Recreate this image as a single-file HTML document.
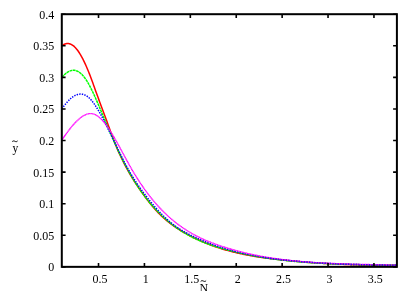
<!DOCTYPE html>
<html><head><meta charset="utf-8"><title>plot</title>
<style>
html,body{margin:0;padding:0;background:#fff;}
body{width:415px;height:291px;overflow:hidden;}
svg{display:block;will-change:transform;}
text{font-family:"Liberation Serif",serif;font-size:12px;fill:#000;}
</style></head><body>
<svg width="415" height="291" viewBox="0 0 415 291">
<rect width="415" height="291" fill="#fff"/>
<g fill="none" stroke-linejoin="round" stroke-linecap="butt" stroke-width="1.5">
<path d="M61.80,45.89 L62.64,45.26 L63.48,44.72 L64.32,44.28 L65.16,43.94 L66.00,43.70 L66.84,43.56 L67.68,43.52 L68.52,43.57 L69.36,43.72 L70.20,43.97 L71.04,44.32 L71.88,44.76 L72.72,45.30 L73.56,45.93 L74.40,46.66 L75.24,47.49 L76.08,48.42 L76.92,49.43 L77.76,50.54 L78.60,51.74 L79.44,53.02 L80.28,54.38 L81.12,55.82 L81.96,57.35 L82.80,58.94 L83.64,60.61 L84.48,62.35 L85.32,64.15 L86.16,66.02 L87.00,67.95 L87.84,69.95 L88.68,72.00 L89.52,74.11 L90.35,76.28 L91.19,78.51 L92.03,80.79 L92.87,83.10 L93.71,85.45 L94.55,87.80 L95.39,90.15 L96.23,92.48 L97.07,94.79 L97.91,97.08 L98.75,99.37 L99.59,101.65 L100.43,103.91 L101.27,106.18 L102.11,108.44 L102.95,110.71 L103.79,112.97 L104.63,115.24 L105.47,117.51 L106.31,119.80 L107.15,122.09 L107.99,124.40 L108.83,126.72 L109.67,129.06 L110.51,131.39 L111.35,133.71 L112.19,136.00 L113.03,138.25 L113.87,140.46 L114.71,142.60 L115.55,144.70 L116.39,146.74 L117.23,148.74 L118.07,150.68 L118.91,152.59 L119.75,154.44 L120.59,156.26 L121.43,158.04 L122.27,159.78 L123.11,161.48 L123.95,163.14 L124.79,164.77 L125.63,166.37 L126.47,167.93 L127.31,169.46 L128.15,170.97 L128.99,172.44 L129.83,173.89 L130.67,175.31 L131.51,176.71 L132.35,178.08 L133.19,179.43 L134.03,180.76 L134.87,182.08 L135.71,183.37 L136.55,184.65 L137.39,185.91 L138.23,187.16 L139.07,188.40 L139.91,189.63 L140.75,190.84 L141.59,192.04 L142.43,193.22 L143.27,194.40 L144.11,195.56 L144.95,196.70 L145.78,197.83 L146.62,198.95 L147.46,200.05 L148.30,201.13 L149.14,202.21 L149.98,203.26 L150.82,204.30 L151.66,205.32 L152.50,206.32 L153.34,207.31 L154.18,208.28 L155.02,209.23 L155.86,210.17 L156.70,211.08 L157.54,211.98 L158.38,212.86 L159.22,213.72 L160.06,214.56 L160.90,215.38 L161.74,216.19 L162.58,216.97 L163.42,217.74 L164.26,218.50 L165.10,219.24 L165.94,219.96 L166.78,220.67 L167.62,221.36 L168.46,222.04 L169.30,222.70 L170.14,223.35 L170.98,223.99 L171.82,224.61 L172.66,225.23 L173.50,225.83 L174.34,226.41 L175.18,226.99 L176.02,227.56 L176.86,228.12 L177.70,228.66 L178.54,229.20 L179.38,229.73 L180.22,230.25 L181.06,230.76 L181.90,231.26 L182.74,231.76 L183.58,232.24 L184.42,232.73 L185.26,233.20 L186.10,233.67 L186.94,234.14 L187.78,234.60 L188.62,235.05 L189.46,235.49 L190.30,235.94 L191.14,236.37 L191.98,236.80 L192.82,237.23 L193.66,237.64 L194.50,238.06 L195.34,238.47 L196.18,238.87 L197.02,239.27 L197.86,239.66 L198.70,240.04 L199.54,240.43 L200.38,240.80 L201.22,241.17 L202.05,241.54 L202.89,241.90 L203.73,242.26 L204.57,242.61 L205.41,242.96 L206.25,243.30 L207.09,243.63 L207.93,243.97 L208.77,244.29 L209.61,244.62 L210.45,244.93 L211.29,245.25 L212.13,245.56 L212.97,245.86 L213.81,246.16 L214.65,246.46 L215.49,246.75 L216.33,247.04 L217.17,247.32 L218.01,247.60 L218.85,247.87 L219.69,248.14 L220.53,248.41 L221.37,248.67 L222.21,248.93 L223.05,249.19 L223.89,249.44 L224.73,249.68 L225.57,249.93 L226.41,250.17 L227.25,250.40 L228.09,250.63 L228.93,250.86 L229.77,251.09 L230.61,251.31 L231.45,251.53 L232.29,251.74 L233.13,251.95 L233.97,252.16 L234.81,252.36 L235.65,252.56 L236.49,252.76 L237.33,252.96 L238.17,253.15 L239.01,253.34 L239.85,253.52 L240.69,253.70 L241.53,253.88 L242.37,254.06 L243.21,254.23 L244.05,254.40 L244.89,254.57 L245.73,254.74 L246.57,254.90 L247.41,255.06 L248.25,255.22 L249.09,255.37 L249.93,255.53 L250.77,255.68 L251.61,255.82 L252.45,255.97 L253.29,256.11 L254.13,256.25 L254.97,256.39 L255.81,256.53 L256.65,256.66 L257.48,256.79 L258.32,256.92 L259.16,257.05 L260.00,257.18 L260.84,257.30 L261.68,257.42 L262.52,257.54 L263.36,257.66 L264.20,257.78 L265.04,257.89 L265.88,258.01 L266.72,258.12 L267.56,258.23 L268.40,258.34 L269.24,258.45 L270.08,258.55 L270.92,258.66 L271.76,258.76 L272.60,258.86 L273.44,258.96 L274.28,259.06 L275.12,259.16 L275.96,259.26 L276.80,259.36 L277.64,259.45 L278.48,259.55 L279.32,259.64 L280.16,259.73 L281.00,259.82 L281.84,259.91 L282.68,260.00 L283.52,260.09 L284.36,260.18 L285.20,260.27 L286.04,260.36 L286.88,260.44 L287.72,260.53 L288.56,260.61 L289.40,260.69 L290.24,260.77 L291.08,260.86 L291.92,260.94 L292.76,261.02 L293.60,261.10 L294.44,261.17 L295.28,261.25 L296.12,261.33 L296.96,261.40 L297.80,261.48 L298.64,261.55 L299.48,261.62 L300.32,261.70 L301.16,261.77 L302.00,261.84 L302.84,261.91 L303.68,261.98 L304.52,262.05 L305.36,262.11 L306.20,262.18 L307.04,262.25 L307.88,262.31 L308.72,262.38 L309.56,262.44 L310.40,262.50 L311.24,262.56 L312.08,262.63 L312.92,262.69 L313.75,262.75 L314.59,262.80 L315.43,262.86 L316.27,262.92 L317.11,262.98 L317.95,263.03 L318.79,263.09 L319.63,263.14 L320.47,263.19 L321.31,263.25 L322.15,263.30 L322.99,263.35 L323.83,263.40 L324.67,263.45 L325.51,263.50 L326.35,263.55 L327.19,263.60 L328.03,263.64 L328.87,263.69 L329.71,263.73 L330.55,263.78 L331.39,263.82 L332.23,263.87 L333.07,263.91 L333.91,263.95 L334.75,263.99 L335.59,264.03 L336.43,264.07 L337.27,264.11 L338.11,264.15 L338.95,264.19 L339.79,264.22 L340.63,264.26 L341.47,264.30 L342.31,264.33 L343.15,264.36 L343.99,264.40 L344.83,264.43 L345.67,264.46 L346.51,264.49 L347.35,264.53 L348.19,264.56 L349.03,264.58 L349.87,264.61 L350.71,264.64 L351.55,264.67 L352.39,264.70 L353.23,264.72 L354.07,264.75 L354.91,264.77 L355.75,264.80 L356.59,264.82 L357.43,264.84 L358.27,264.87 L359.11,264.89 L359.95,264.91 L360.79,264.93 L361.63,264.95 L362.47,264.97 L363.31,264.99 L364.15,265.00 L364.99,265.02 L365.83,265.04 L366.67,265.05 L367.51,265.07 L368.35,265.08 L369.18,265.10 L370.02,265.11 L370.86,265.12 L371.70,265.14 L372.54,265.15 L373.38,265.16 L374.22,265.17 L375.06,265.18 L375.90,265.19 L376.74,265.20 L377.58,265.21 L378.42,265.21 L379.26,265.22 L380.10,265.23 L380.94,265.23 L381.78,265.24 L382.62,265.24 L383.46,265.25 L384.30,265.25 L385.14,265.26 L385.98,265.26 L386.82,265.26 L387.66,265.26 L388.50,265.26 L389.34,265.26 L390.18,265.26 L391.02,265.26 L391.86,265.26 L392.70,265.26 L393.54,265.26 L394.38,265.25 L395.22,265.25 L396.06,265.25 L396.90,265.24" stroke="#ff0000"/>
<path d="M61.80,77.32 L62.64,76.41 L63.48,75.56 L64.32,74.76 L65.16,74.02 L66.00,73.34 L66.84,72.72 L67.68,72.16 L68.52,71.67 L69.36,71.25 L70.20,70.90 L71.04,70.62 L71.88,70.42 L72.72,70.30 L73.56,70.26 L74.40,70.30 L75.24,70.43 L76.08,70.65 L76.92,70.94 L77.76,71.33 L78.60,71.80 L79.44,72.35 L80.28,72.99 L81.12,73.72 L81.96,74.53 L82.80,75.42 L83.64,76.40 L84.48,77.46 L85.32,78.61 L86.16,79.84 L87.00,81.15 L87.84,82.54 L88.68,84.00 L89.52,85.54 L90.35,87.14 L91.19,88.79 L92.03,90.50 L92.87,92.26 L93.71,94.07 L94.55,95.92 L95.39,97.80 L96.23,99.71 L97.07,101.65 L97.91,103.60 L98.75,105.58 L99.59,107.57 L100.43,109.57 L101.27,111.58 L102.11,113.59 L102.95,115.61 L103.79,117.62 L104.63,119.63 L105.47,121.63 L106.31,123.62 L107.15,125.61 L107.99,127.58 L108.83,129.55 L109.67,131.51 L110.51,133.46 L111.35,135.39 L112.19,137.31 L113.03,139.22 L113.87,141.12 L114.71,143.00 L115.55,144.86 L116.39,146.71 L117.23,148.54 L118.07,150.35 L118.91,152.15 L119.75,153.92 L120.59,155.67 L121.43,157.41 L122.27,159.12 L123.11,160.81 L123.95,162.47 L124.79,164.11 L125.63,165.73 L126.47,167.32 L127.31,168.88 L128.15,170.43 L128.99,171.94 L129.83,173.44 L130.67,174.91 L131.51,176.36 L132.35,177.78 L133.19,179.19 L134.03,180.57 L134.87,181.93 L135.71,183.26 L136.55,184.58 L137.39,185.87 L138.23,187.15 L139.07,188.40 L139.91,189.63 L140.75,190.85 L141.59,192.04 L142.43,193.21 L143.27,194.37 L144.11,195.51 L144.95,196.63 L145.78,197.73 L146.62,198.81 L147.46,199.87 L148.30,200.92 L149.14,201.95 L149.98,202.96 L150.82,203.96 L151.66,204.94 L152.50,205.91 L153.34,206.86 L154.18,207.79 L155.02,208.71 L155.86,209.61 L156.70,210.50 L157.54,211.38 L158.38,212.24 L159.22,213.09 L160.06,213.93 L160.90,214.75 L161.74,215.56 L162.58,216.35 L163.42,217.14 L164.26,217.91 L165.10,218.66 L165.94,219.41 L166.78,220.14 L167.62,220.86 L168.46,221.57 L169.30,222.27 L170.14,222.95 L170.98,223.63 L171.82,224.29 L172.66,224.94 L173.50,225.58 L174.34,226.21 L175.18,226.82 L176.02,227.43 L176.86,228.03 L177.70,228.61 L178.54,229.19 L179.38,229.75 L180.22,230.31 L181.06,230.86 L181.90,231.39 L182.74,231.92 L183.58,232.44 L184.42,232.94 L185.26,233.44 L186.10,233.93 L186.94,234.41 L187.78,234.88 L188.62,235.35 L189.46,235.80 L190.30,236.25 L191.14,236.69 L191.98,237.12 L192.82,237.54 L193.66,237.96 L194.50,238.36 L195.34,238.76 L196.18,239.16 L197.02,239.54 L197.86,239.92 L198.70,240.29 L199.54,240.66 L200.38,241.02 L201.22,241.37 L202.05,241.72 L202.89,242.06 L203.73,242.39 L204.57,242.72 L205.41,243.04 L206.25,243.36 L207.09,243.67 L207.93,243.98 L208.77,244.28 L209.61,244.58 L210.45,244.87 L211.29,245.15 L212.13,245.44 L212.97,245.72 L213.81,245.99 L214.65,246.26 L215.49,246.53 L216.33,246.79 L217.17,247.05 L218.01,247.30 L218.85,247.55 L219.69,247.80 L220.53,248.05 L221.37,248.29 L222.21,248.53 L223.05,248.77 L223.89,249.00 L224.73,249.23 L225.57,249.46 L226.41,249.69 L227.25,249.91 L228.09,250.14 L228.93,250.36 L229.77,250.58 L230.61,250.79 L231.45,251.00 L232.29,251.22 L233.13,251.42 L233.97,251.63 L234.81,251.83 L235.65,252.04 L236.49,252.24 L237.33,252.43 L238.17,252.63 L239.01,252.82 L239.85,253.01 L240.69,253.20 L241.53,253.39 L242.37,253.57 L243.21,253.75 L244.05,253.93 L244.89,254.11 L245.73,254.29 L246.57,254.46 L247.41,254.63 L248.25,254.80 L249.09,254.97 L249.93,255.14 L250.77,255.30 L251.61,255.46 L252.45,255.62 L253.29,255.78 L254.13,255.94 L254.97,256.09 L255.81,256.24 L256.65,256.39 L257.48,256.54 L258.32,256.69 L259.16,256.83 L260.00,256.97 L260.84,257.12 L261.68,257.25 L262.52,257.39 L263.36,257.53 L264.20,257.66 L265.04,257.79 L265.88,257.92 L266.72,258.05 L267.56,258.18 L268.40,258.30 L269.24,258.43 L270.08,258.55 L270.92,258.67 L271.76,258.78 L272.60,258.90 L273.44,259.02 L274.28,259.13 L275.12,259.24 L275.96,259.35 L276.80,259.46 L277.64,259.57 L278.48,259.67 L279.32,259.77 L280.16,259.88 L281.00,259.98 L281.84,260.08 L282.68,260.17 L283.52,260.27 L284.36,260.37 L285.20,260.46 L286.04,260.55 L286.88,260.64 L287.72,260.73 L288.56,260.82 L289.40,260.90 L290.24,260.99 L291.08,261.07 L291.92,261.16 L292.76,261.24 L293.60,261.32 L294.44,261.39 L295.28,261.47 L296.12,261.55 L296.96,261.62 L297.80,261.69 L298.64,261.77 L299.48,261.84 L300.32,261.91 L301.16,261.98 L302.00,262.04 L302.84,262.11 L303.68,262.17 L304.52,262.24 L305.36,262.30 L306.20,262.36 L307.04,262.42 L307.88,262.48 L308.72,262.54 L309.56,262.60 L310.40,262.65 L311.24,262.71 L312.08,262.76 L312.92,262.82 L313.75,262.87 L314.59,262.92 L315.43,262.97 L316.27,263.02 L317.11,263.07 L317.95,263.11 L318.79,263.16 L319.63,263.21 L320.47,263.25 L321.31,263.30 L322.15,263.34 L322.99,263.38 L323.83,263.42 L324.67,263.46 L325.51,263.50 L326.35,263.54 L327.19,263.58 L328.03,263.62 L328.87,263.65 L329.71,263.69 L330.55,263.73 L331.39,263.76 L332.23,263.79 L333.07,263.83 L333.91,263.86 L334.75,263.89 L335.59,263.92 L336.43,263.95 L337.27,263.98 L338.11,264.01 L338.95,264.04 L339.79,264.07 L340.63,264.10 L341.47,264.13 L342.31,264.15 L343.15,264.18 L343.99,264.20 L344.83,264.23 L345.67,264.25 L346.51,264.28 L347.35,264.30 L348.19,264.33 L349.03,264.35 L349.87,264.37 L350.71,264.39 L351.55,264.42 L352.39,264.44 L353.23,264.46 L354.07,264.48 L354.91,264.50 L355.75,264.52 L356.59,264.54 L357.43,264.56 L358.27,264.58 L359.11,264.60 L359.95,264.62 L360.79,264.64 L361.63,264.65 L362.47,264.67 L363.31,264.69 L364.15,264.71 L364.99,264.73 L365.83,264.74 L366.67,264.76 L367.51,264.78 L368.35,264.79 L369.18,264.81 L370.02,264.83 L370.86,264.85 L371.70,264.86 L372.54,264.88 L373.38,264.90 L374.22,264.91 L375.06,264.93 L375.90,264.95 L376.74,264.96 L377.58,264.98 L378.42,265.00 L379.26,265.01 L380.10,265.03 L380.94,265.05 L381.78,265.07 L382.62,265.08 L383.46,265.10 L384.30,265.12 L385.14,265.14 L385.98,265.15 L386.82,265.17 L387.66,265.19 L388.50,265.21 L389.34,265.23 L390.18,265.25 L391.02,265.27 L391.86,265.29 L392.70,265.31 L393.54,265.33 L394.38,265.35 L395.22,265.37 L396.06,265.39 L396.90,265.41" stroke="#00ff00" stroke-dasharray="2.8 0.55"/>
<path d="M61.80,108.90 L62.64,107.75 L63.48,106.62 L64.32,105.53 L65.16,104.47 L66.00,103.45 L66.84,102.47 L67.68,101.53 L68.52,100.64 L69.36,99.80 L70.20,99.00 L71.04,98.26 L71.88,97.57 L72.72,96.94 L73.56,96.36 L74.40,95.85 L75.24,95.40 L76.08,95.02 L76.92,94.69 L77.76,94.44 L78.60,94.25 L79.44,94.13 L80.28,94.08 L81.12,94.09 L81.96,94.18 L82.80,94.34 L83.64,94.57 L84.48,94.87 L85.32,95.25 L86.16,95.70 L87.00,96.23 L87.84,96.84 L88.68,97.52 L89.52,98.28 L90.35,99.12 L91.19,100.04 L92.03,101.04 L92.87,102.11 L93.71,103.24 L94.55,104.43 L95.39,105.66 L96.23,106.95 L97.07,108.26 L97.91,109.62 L98.75,111.02 L99.59,112.45 L100.43,113.93 L101.27,115.46 L102.11,117.03 L102.95,118.63 L103.79,120.27 L104.63,121.93 L105.47,123.61 L106.31,125.30 L107.15,126.99 L107.99,128.69 L108.83,130.38 L109.67,132.09 L110.51,133.79 L111.35,135.50 L112.19,137.22 L113.03,138.95 L113.87,140.69 L114.71,142.43 L115.55,144.18 L116.39,145.93 L117.23,147.68 L118.07,149.43 L118.91,151.17 L119.75,152.91 L120.59,154.63 L121.43,156.34 L122.27,158.04 L123.11,159.71 L123.95,161.37 L124.79,162.99 L125.63,164.60 L126.47,166.17 L127.31,167.71 L128.15,169.23 L128.99,170.71 L129.83,172.16 L130.67,173.59 L131.51,174.99 L132.35,176.36 L133.19,177.71 L134.03,179.04 L134.87,180.34 L135.71,181.62 L136.55,182.88 L137.39,184.13 L138.23,185.35 L139.07,186.55 L139.91,187.74 L140.75,188.91 L141.59,190.06 L142.43,191.21 L143.27,192.33 L144.11,193.45 L144.95,194.55 L145.78,195.65 L146.62,196.73 L147.46,197.81 L148.30,198.87 L149.14,199.93 L149.98,200.97 L150.82,202.00 L151.66,203.02 L152.50,204.03 L153.34,205.03 L154.18,206.02 L155.02,206.99 L155.86,207.95 L156.70,208.90 L157.54,209.83 L158.38,210.75 L159.22,211.66 L160.06,212.55 L160.90,213.43 L161.74,214.29 L162.58,215.13 L163.42,215.97 L164.26,216.78 L165.10,217.58 L165.94,218.37 L166.78,219.13 L167.62,219.88 L168.46,220.62 L169.30,221.33 L170.14,222.03 L170.98,222.71 L171.82,223.38 L172.66,224.03 L173.50,224.67 L174.34,225.30 L175.18,225.91 L176.02,226.50 L176.86,227.08 L177.70,227.65 L178.54,228.21 L179.38,228.76 L180.22,229.29 L181.06,229.81 L181.90,230.32 L182.74,230.82 L183.58,231.32 L184.42,231.80 L185.26,232.27 L186.10,232.73 L186.94,233.19 L187.78,233.64 L188.62,234.08 L189.46,234.51 L190.30,234.93 L191.14,235.35 L191.98,235.77 L192.82,236.17 L193.66,236.58 L194.50,236.97 L195.34,237.37 L196.18,237.75 L197.02,238.14 L197.86,238.52 L198.70,238.89 L199.54,239.27 L200.38,239.63 L201.22,240.00 L202.05,240.36 L202.89,240.71 L203.73,241.06 L204.57,241.41 L205.41,241.75 L206.25,242.09 L207.09,242.42 L207.93,242.75 L208.77,243.08 L209.61,243.40 L210.45,243.72 L211.29,244.04 L212.13,244.35 L212.97,244.66 L213.81,244.96 L214.65,245.26 L215.49,245.56 L216.33,245.85 L217.17,246.14 L218.01,246.42 L218.85,246.70 L219.69,246.98 L220.53,247.26 L221.37,247.53 L222.21,247.80 L223.05,248.06 L223.89,248.32 L224.73,248.58 L225.57,248.83 L226.41,249.08 L227.25,249.33 L228.09,249.58 L228.93,249.82 L229.77,250.06 L230.61,250.29 L231.45,250.52 L232.29,250.75 L233.13,250.98 L233.97,251.20 L234.81,251.42 L235.65,251.63 L236.49,251.85 L237.33,252.06 L238.17,252.26 L239.01,252.47 L239.85,252.67 L240.69,252.87 L241.53,253.07 L242.37,253.26 L243.21,253.45 L244.05,253.64 L244.89,253.82 L245.73,254.01 L246.57,254.19 L247.41,254.36 L248.25,254.54 L249.09,254.71 L249.93,254.88 L250.77,255.05 L251.61,255.21 L252.45,255.37 L253.29,255.53 L254.13,255.69 L254.97,255.85 L255.81,256.00 L256.65,256.15 L257.48,256.30 L258.32,256.45 L259.16,256.59 L260.00,256.73 L260.84,256.87 L261.68,257.01 L262.52,257.14 L263.36,257.28 L264.20,257.41 L265.04,257.54 L265.88,257.67 L266.72,257.79 L267.56,257.92 L268.40,258.04 L269.24,258.16 L270.08,258.28 L270.92,258.39 L271.76,258.51 L272.60,258.62 L273.44,258.73 L274.28,258.84 L275.12,258.95 L275.96,259.06 L276.80,259.16 L277.64,259.27 L278.48,259.37 L279.32,259.47 L280.16,259.57 L281.00,259.66 L281.84,259.76 L282.68,259.86 L283.52,259.95 L284.36,260.04 L285.20,260.13 L286.04,260.22 L286.88,260.31 L287.72,260.40 L288.56,260.48 L289.40,260.57 L290.24,260.65 L291.08,260.73 L291.92,260.82 L292.76,260.90 L293.60,260.98 L294.44,261.05 L295.28,261.13 L296.12,261.21 L296.96,261.28 L297.80,261.36 L298.64,261.43 L299.48,261.50 L300.32,261.58 L301.16,261.65 L302.00,261.72 L302.84,261.79 L303.68,261.85 L304.52,261.92 L305.36,261.99 L306.20,262.05 L307.04,262.12 L307.88,262.18 L308.72,262.24 L309.56,262.30 L310.40,262.36 L311.24,262.42 L312.08,262.48 L312.92,262.54 L313.75,262.60 L314.59,262.66 L315.43,262.71 L316.27,262.77 L317.11,262.82 L317.95,262.87 L318.79,262.93 L319.63,262.98 L320.47,263.03 L321.31,263.08 L322.15,263.13 L322.99,263.18 L323.83,263.22 L324.67,263.27 L325.51,263.32 L326.35,263.36 L327.19,263.41 L328.03,263.45 L328.87,263.50 L329.71,263.54 L330.55,263.58 L331.39,263.62 L332.23,263.66 L333.07,263.70 L333.91,263.74 L334.75,263.78 L335.59,263.82 L336.43,263.85 L337.27,263.89 L338.11,263.93 L338.95,263.96 L339.79,264.00 L340.63,264.03 L341.47,264.06 L342.31,264.10 L343.15,264.13 L343.99,264.16 L344.83,264.19 L345.67,264.22 L346.51,264.25 L347.35,264.28 L348.19,264.31 L349.03,264.34 L349.87,264.37 L350.71,264.39 L351.55,264.42 L352.39,264.45 L353.23,264.47 L354.07,264.50 L354.91,264.52 L355.75,264.55 L356.59,264.57 L357.43,264.59 L358.27,264.62 L359.11,264.64 L359.95,264.66 L360.79,264.68 L361.63,264.70 L362.47,264.72 L363.31,264.74 L364.15,264.76 L364.99,264.78 L365.83,264.80 L366.67,264.82 L367.51,264.84 L368.35,264.85 L369.18,264.87 L370.02,264.89 L370.86,264.90 L371.70,264.92 L372.54,264.94 L373.38,264.95 L374.22,264.97 L375.06,264.98 L375.90,265.00 L376.74,265.01 L377.58,265.02 L378.42,265.04 L379.26,265.05 L380.10,265.06 L380.94,265.08 L381.78,265.09 L382.62,265.10 L383.46,265.11 L384.30,265.12 L385.14,265.14 L385.98,265.15 L386.82,265.16 L387.66,265.17 L388.50,265.18 L389.34,265.19 L390.18,265.20 L391.02,265.21 L391.86,265.22 L392.70,265.23 L393.54,265.24 L394.38,265.25 L395.22,265.25 L396.06,265.26 L396.90,265.27" stroke="#0000ff" stroke-dasharray="1.4 1.2"/>
<path d="M61.80,140.25 L62.64,138.98 L63.48,137.73 L64.32,136.50 L65.16,135.29 L66.00,134.10 L66.84,132.94 L67.68,131.79 L68.52,130.67 L69.36,129.57 L70.20,128.50 L71.04,127.45 L71.88,126.43 L72.72,125.44 L73.56,124.48 L74.40,123.55 L75.24,122.65 L76.08,121.79 L76.92,120.95 L77.76,120.16 L78.60,119.40 L79.44,118.67 L80.28,117.99 L81.12,117.34 L81.96,116.74 L82.80,116.19 L83.64,115.68 L84.48,115.22 L85.32,114.81 L86.16,114.46 L87.00,114.16 L87.84,113.92 L88.68,113.74 L89.52,113.63 L90.35,113.57 L91.19,113.58 L92.03,113.66 L92.87,113.81 L93.71,114.04 L94.55,114.34 L95.39,114.71 L96.23,115.15 L97.07,115.67 L97.91,116.25 L98.75,116.90 L99.59,117.61 L100.43,118.39 L101.27,119.21 L102.11,120.10 L102.95,121.03 L103.79,122.02 L104.63,123.05 L105.47,124.13 L106.31,125.25 L107.15,126.41 L107.99,127.61 L108.83,128.84 L109.67,130.11 L110.51,131.42 L111.35,132.76 L112.19,134.12 L113.03,135.52 L113.87,136.94 L114.71,138.38 L115.55,139.84 L116.39,141.32 L117.23,142.82 L118.07,144.33 L118.91,145.86 L119.75,147.39 L120.59,148.94 L121.43,150.49 L122.27,152.05 L123.11,153.60 L123.95,155.16 L124.79,156.72 L125.63,158.27 L126.47,159.82 L127.31,161.36 L128.15,162.88 L128.99,164.40 L129.83,165.90 L130.67,167.38 L131.51,168.85 L132.35,170.30 L133.19,171.72 L134.03,173.13 L134.87,174.52 L135.71,175.89 L136.55,177.24 L137.39,178.58 L138.23,179.89 L139.07,181.19 L139.91,182.47 L140.75,183.73 L141.59,184.97 L142.43,186.20 L143.27,187.40 L144.11,188.59 L144.95,189.77 L145.78,190.93 L146.62,192.07 L147.46,193.19 L148.30,194.30 L149.14,195.39 L149.98,196.47 L150.82,197.53 L151.66,198.57 L152.50,199.60 L153.34,200.61 L154.18,201.61 L155.02,202.59 L155.86,203.56 L156.70,204.52 L157.54,205.46 L158.38,206.38 L159.22,207.29 L160.06,208.19 L160.90,209.07 L161.74,209.94 L162.58,210.80 L163.42,211.64 L164.26,212.47 L165.10,213.29 L165.94,214.10 L166.78,214.89 L167.62,215.67 L168.46,216.44 L169.30,217.19 L170.14,217.93 L170.98,218.66 L171.82,219.38 L172.66,220.09 L173.50,220.79 L174.34,221.47 L175.18,222.15 L176.02,222.81 L176.86,223.46 L177.70,224.10 L178.54,224.73 L179.38,225.35 L180.22,225.96 L181.06,226.56 L181.90,227.15 L182.74,227.73 L183.58,228.30 L184.42,228.86 L185.26,229.41 L186.10,229.96 L186.94,230.49 L187.78,231.01 L188.62,231.53 L189.46,232.03 L190.30,232.53 L191.14,233.02 L191.98,233.50 L192.82,233.97 L193.66,234.43 L194.50,234.89 L195.34,235.34 L196.18,235.78 L197.02,236.21 L197.86,236.64 L198.70,237.06 L199.54,237.47 L200.38,237.87 L201.22,238.27 L202.05,238.66 L202.89,239.05 L203.73,239.43 L204.57,239.80 L205.41,240.16 L206.25,240.52 L207.09,240.88 L207.93,241.23 L208.77,241.57 L209.61,241.91 L210.45,242.24 L211.29,242.57 L212.13,242.89 L212.97,243.21 L213.81,243.52 L214.65,243.83 L215.49,244.14 L216.33,244.44 L217.17,244.73 L218.01,245.02 L218.85,245.31 L219.69,245.60 L220.53,245.88 L221.37,246.16 L222.21,246.43 L223.05,246.70 L223.89,246.97 L224.73,247.24 L225.57,247.50 L226.41,247.76 L227.25,248.02 L228.09,248.27 L228.93,248.52 L229.77,248.77 L230.61,249.02 L231.45,249.26 L232.29,249.50 L233.13,249.74 L233.97,249.97 L234.81,250.20 L235.65,250.43 L236.49,250.66 L237.33,250.89 L238.17,251.11 L239.01,251.33 L239.85,251.54 L240.69,251.76 L241.53,251.97 L242.37,252.18 L243.21,252.38 L244.05,252.59 L244.89,252.79 L245.73,252.99 L246.57,253.18 L247.41,253.38 L248.25,253.57 L249.09,253.76 L249.93,253.95 L250.77,254.13 L251.61,254.31 L252.45,254.49 L253.29,254.67 L254.13,254.84 L254.97,255.02 L255.81,255.19 L256.65,255.36 L257.48,255.52 L258.32,255.69 L259.16,255.85 L260.00,256.01 L260.84,256.17 L261.68,256.32 L262.52,256.47 L263.36,256.62 L264.20,256.77 L265.04,256.92 L265.88,257.07 L266.72,257.21 L267.56,257.35 L268.40,257.49 L269.24,257.62 L270.08,257.76 L270.92,257.89 L271.76,258.02 L272.60,258.15 L273.44,258.28 L274.28,258.40 L275.12,258.53 L275.96,258.65 L276.80,258.77 L277.64,258.89 L278.48,259.00 L279.32,259.12 L280.16,259.23 L281.00,259.34 L281.84,259.45 L282.68,259.56 L283.52,259.66 L284.36,259.77 L285.20,259.87 L286.04,259.97 L286.88,260.07 L287.72,260.16 L288.56,260.26 L289.40,260.35 L290.24,260.45 L291.08,260.54 L291.92,260.63 L292.76,260.71 L293.60,260.80 L294.44,260.89 L295.28,260.97 L296.12,261.05 L296.96,261.13 L297.80,261.21 L298.64,261.29 L299.48,261.36 L300.32,261.44 L301.16,261.51 L302.00,261.58 L302.84,261.66 L303.68,261.73 L304.52,261.79 L305.36,261.86 L306.20,261.93 L307.04,261.99 L307.88,262.05 L308.72,262.12 L309.56,262.18 L310.40,262.24 L311.24,262.30 L312.08,262.35 L312.92,262.41 L313.75,262.47 L314.59,262.52 L315.43,262.57 L316.27,262.63 L317.11,262.68 L317.95,262.73 L318.79,262.78 L319.63,262.82 L320.47,262.87 L321.31,262.92 L322.15,262.96 L322.99,263.01 L323.83,263.05 L324.67,263.09 L325.51,263.13 L326.35,263.18 L327.19,263.22 L328.03,263.25 L328.87,263.29 L329.71,263.33 L330.55,263.37 L331.39,263.40 L332.23,263.44 L333.07,263.47 L333.91,263.51 L334.75,263.54 L335.59,263.57 L336.43,263.61 L337.27,263.64 L338.11,263.67 L338.95,263.70 L339.79,263.73 L340.63,263.76 L341.47,263.79 L342.31,263.81 L343.15,263.84 L343.99,263.87 L344.83,263.89 L345.67,263.92 L346.51,263.95 L347.35,263.97 L348.19,264.00 L349.03,264.02 L349.87,264.05 L350.71,264.07 L351.55,264.09 L352.39,264.12 L353.23,264.14 L354.07,264.16 L354.91,264.18 L355.75,264.20 L356.59,264.23 L357.43,264.25 L358.27,264.27 L359.11,264.29 L359.95,264.31 L360.79,264.33 L361.63,264.35 L362.47,264.37 L363.31,264.39 L364.15,264.41 L364.99,264.43 L365.83,264.45 L366.67,264.47 L367.51,264.49 L368.35,264.51 L369.18,264.53 L370.02,264.55 L370.86,264.57 L371.70,264.59 L372.54,264.62 L373.38,264.64 L374.22,264.66 L375.06,264.68 L375.90,264.70 L376.74,264.72 L377.58,264.74 L378.42,264.76 L379.26,264.78 L380.10,264.80 L380.94,264.83 L381.78,264.85 L382.62,264.87 L383.46,264.89 L384.30,264.92 L385.14,264.94 L385.98,264.97 L386.82,264.99 L387.66,265.01 L388.50,265.04 L389.34,265.07 L390.18,265.09 L391.02,265.12 L391.86,265.14 L392.70,265.17 L393.54,265.20 L394.38,265.23 L395.22,265.26 L396.06,265.29 L396.90,265.32" stroke="#ff00ff" stroke-width="1.35" stroke-dasharray="1.25 0.25"/>
<path d="M262.52,257.14 L263.36,257.28 L264.20,257.41 L265.04,257.54 L265.88,257.67 L266.72,257.79 L267.56,257.92 L268.40,258.04 L269.24,258.16 L270.08,258.28 L270.92,258.39 L271.76,258.51 L272.60,258.62 L273.44,258.73 L274.28,258.84 L275.12,258.95 L275.96,259.06 L276.80,259.16 L277.64,259.27 L278.48,259.37 L279.32,259.47 L280.16,259.57 L281.00,259.66 L281.84,259.76 L282.68,259.86 L283.52,259.95 L284.36,260.04 L285.20,260.13 L286.04,260.22 L286.88,260.31 L287.72,260.40 L288.56,260.48 L289.40,260.57 L290.24,260.65 L291.08,260.73 L291.92,260.82 L292.76,260.90 L293.60,260.98 L294.44,261.05 L295.28,261.13 L296.12,261.21 L296.96,261.28 L297.80,261.36 L298.64,261.43 L299.48,261.50 L300.32,261.58 L301.16,261.65 L302.00,261.72 L302.84,261.79 L303.68,261.85 L304.52,261.92 L305.36,261.99 L306.20,262.05 L307.04,262.12 L307.88,262.18 L308.72,262.24 L309.56,262.30 L310.40,262.36 L311.24,262.42 L312.08,262.48 L312.92,262.54 L313.75,262.60 L314.59,262.66 L315.43,262.71 L316.27,262.77 L317.11,262.82 L317.95,262.87 L318.79,262.93 L319.63,262.98 L320.47,263.03 L321.31,263.08 L322.15,263.13 L322.99,263.18 L323.83,263.22 L324.67,263.27 L325.51,263.32 L326.35,263.36 L327.19,263.41 L328.03,263.45 L328.87,263.50 L329.71,263.54 L330.55,263.58 L331.39,263.62 L332.23,263.66 L333.07,263.70 L333.91,263.74 L334.75,263.78 L335.59,263.82 L336.43,263.85 L337.27,263.89 L338.11,263.93 L338.95,263.96 L339.79,264.00 L340.63,264.03 L341.47,264.06 L342.31,264.10 L343.15,264.13 L343.99,264.16 L344.83,264.19 L345.67,264.22 L346.51,264.25 L347.35,264.28 L348.19,264.31 L349.03,264.34 L349.87,264.37 L350.71,264.39 L351.55,264.42 L352.39,264.45 L353.23,264.47 L354.07,264.50 L354.91,264.52 L355.75,264.55 L356.59,264.57 L357.43,264.59 L358.27,264.62 L359.11,264.64 L359.95,264.66 L360.79,264.68 L361.63,264.70 L362.47,264.72 L363.31,264.74 L364.15,264.76 L364.99,264.78 L365.83,264.80 L366.67,264.82 L367.51,264.84 L368.35,264.85 L369.18,264.87 L370.02,264.89 L370.86,264.90 L371.70,264.92 L372.54,264.94 L373.38,264.95 L374.22,264.97 L375.06,264.98 L375.90,265.00 L376.74,265.01 L377.58,265.02 L378.42,265.04 L379.26,265.05 L380.10,265.06 L380.94,265.08 L381.78,265.09 L382.62,265.10 L383.46,265.11 L384.30,265.12 L385.14,265.14 L385.98,265.15 L386.82,265.16 L387.66,265.17 L388.50,265.18 L389.34,265.19 L390.18,265.20 L391.02,265.21 L391.86,265.22 L392.70,265.23 L393.54,265.24 L394.38,265.25 L395.22,265.25 L396.06,265.26 L396.90,265.27" stroke="#0000ff" stroke-dasharray="1.3 1.3" stroke-opacity="0.65"/>
</g>
<path d="M98.52,266.85 v-3.8 M98.52,14.2 v3.8 M144.43,266.85 v-3.8 M144.43,14.2 v3.8 M190.33,266.85 v-3.8 M190.33,14.2 v3.8 M236.24,266.85 v-3.8 M236.24,14.2 v3.8 M282.14,266.85 v-3.8 M282.14,14.2 v3.8 M328.04,266.85 v-3.8 M328.04,14.2 v3.8 M373.95,266.85 v-3.8 M373.95,14.2 v3.8 M61.8,266.85 h3.8 M396.9,266.85 h-3.8 M61.8,235.27 h3.8 M396.9,235.27 h-3.8 M61.8,203.69 h3.8 M396.9,203.69 h-3.8 M61.8,172.11 h3.8 M396.9,172.11 h-3.8 M61.8,140.53 h3.8 M396.9,140.53 h-3.8 M61.8,108.94 h3.8 M396.9,108.94 h-3.8 M61.8,77.36 h3.8 M396.9,77.36 h-3.8 M61.8,45.78 h3.8 M396.9,45.78 h-3.8 M61.8,14.20 h3.8 M396.9,14.20 h-3.8" stroke="#000" stroke-width="1.6" fill="none"/>
<rect x="61.8" y="14.2" width="335.10" height="252.65" fill="none" stroke="#000" stroke-width="2"/>
<text transform="translate(54.2,271.25) scale(1,1.12)" text-anchor="end">0</text>
<text transform="translate(54.2,239.67) scale(1,1.12)" text-anchor="end">0.05</text>
<text transform="translate(54.2,208.09) scale(1,1.12)" text-anchor="end">0.1</text>
<text transform="translate(54.2,176.51) scale(1,1.12)" text-anchor="end">0.15</text>
<text transform="translate(54.2,144.93) scale(1,1.12)" text-anchor="end">0.2</text>
<text transform="translate(54.2,113.34) scale(1,1.12)" text-anchor="end">0.25</text>
<text transform="translate(54.2,81.76) scale(1,1.12)" text-anchor="end">0.3</text>
<text transform="translate(54.2,50.18) scale(1,1.12)" text-anchor="end">0.35</text>
<text transform="translate(54.2,18.60) scale(1,1.12)" text-anchor="end">0.4</text>
<text transform="translate(99.92,282.8) scale(1,1.12)" text-anchor="middle">0.5</text>
<text transform="translate(145.83,282.8) scale(1,1.12)" text-anchor="middle">1</text>
<text transform="translate(191.73,282.8) scale(1,1.12)" text-anchor="middle">1.5</text>
<text transform="translate(237.64,282.8) scale(1,1.12)" text-anchor="middle">2</text>
<text transform="translate(283.54,282.8) scale(1,1.12)" text-anchor="middle">2.5</text>
<text transform="translate(329.44,282.8) scale(1,1.12)" text-anchor="middle">3</text>
<text transform="translate(375.35,282.8) scale(1,1.12)" text-anchor="middle">3.5</text>
<text x="12.6" y="151.5" style="font-size:11.5px">y</text>
<path d="M12.2,141.7 C13.0,140.7 14.0,140.8 14.9,141.3 S16.8,141.9 17.6,140.9" fill="none" stroke="#000" stroke-width="1"/>
<text x="199.6" y="291.7">N</text>
<path d="M200.7,281.45 C201.5,280.45 202.5,280.55 203.4,281.05 S205.3,281.65 206.1,280.65" fill="none" stroke="#000" stroke-width="1"/>
</svg>
</body></html>
